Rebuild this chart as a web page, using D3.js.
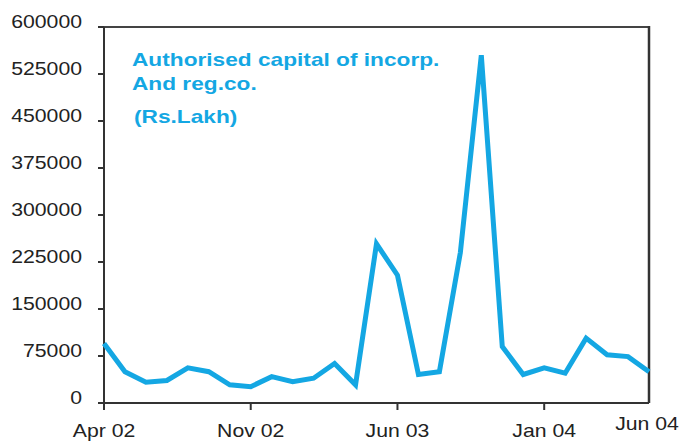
<!DOCTYPE html>
<html>
<head>
<meta charset="utf-8">
<script src="https://cdn.jsdelivr.net/npm/d3@7"></script>
<style>
  html, body { margin: 0; padding: 0; background: #fff; }
  svg { display: block; }
  text { font-family: "Liberation Sans", Arial, sans-serif; }
</style>
</head>
<body>
<svg id="chart" width="682" height="441"></svg>
<script>
const months = ["Apr 02","May 02","Jun 02","Jul 02","Aug 02","Sep 02","Oct 02","Nov 02","Dec 02",
  "Jan 03","Feb 03","Mar 03","Apr 03","May 03","Jun 03","Jul 03","Aug 03","Sep 03","Oct 03",
  "Nov 03","Dec 03","Jan 04","Feb 04","Mar 04","Apr 04","May 04","Jun 04"];
const capital = [95000, 50000, 33000, 36000, 56000, 50000, 29000, 26000, 42000,
  34000, 39500, 63000, 29000, 254000, 204000, 45500, 50000, 240000, 555000,
  90000, 45500, 56000, 47500, 103500, 77000, 74000, 50000];
const yTicks = [0, 75000, 150000, 225000, 300000, 375000, 450000, 525000, 600000];
const xTickLabels = ["Apr 02", "Nov 02", "Jun 03", "Jan 04", "Jun 04"];
const titleLines = ["Authorised capital of incorp.", "And reg.co.", "(Rs.Lakh)"];

const svg = d3.select("#chart");
const mLeft = 104, mRight = 649, mTop = 27, mBottom = 403;
const blue = "#14a7e3";
const stretch = 1.18;

const x = d3.scalePoint().domain(months).range([mLeft, mRight]);
const y = d3.scaleLinear().domain([0, 600000]).range([mBottom, mTop]);

// frame: top and right border
svg.append("line").attr("x1", mLeft - 6).attr("x2", mRight).attr("y1", mTop).attr("y2", mTop)
  .attr("stroke", "#444").attr("stroke-width", 2);
svg.append("line").attr("x1", mRight).attr("x2", mRight).attr("y1", mTop - 1).attr("y2", mBottom)
  .attr("stroke", "#333").attr("stroke-width", 2.5);

// y axis
const yAxis = svg.append("g");
yAxis.append("line").attr("x1", mLeft).attr("x2", mLeft).attr("y1", mTop).attr("y2", mBottom + 7)
  .attr("stroke", "#333").attr("stroke-width", 2);
yAxis.selectAll(".yt").data(yTicks).enter().append("line")
  .attr("x1", mLeft - 6).attr("x2", mLeft).attr("y1", d => y(d)).attr("y2", d => y(d))
  .attr("stroke", "#333").attr("stroke-width", 2);
yAxis.selectAll(".yl").data(yTicks).enter().append("text")
  .attr("transform", d => `translate(82,${y(d) + 1}) scale(${stretch},1)`)
  .attr("text-anchor", "end")
  .attr("font-size", 18).attr("fill", "#222")
  .text(d => d);

// x axis
svg.append("line").attr("x1", mLeft - 6).attr("x2", mRight).attr("y1", mBottom).attr("y2", mBottom)
  .attr("stroke", "#333").attr("stroke-width", 2);
svg.selectAll(".xt").data(xTickLabels.slice(0, 4)).enter().append("line")
  .attr("x1", d => x(d)).attr("x2", d => x(d)).attr("y1", mBottom).attr("y2", mBottom + 7)
  .attr("stroke", "#333").attr("stroke-width", 2);
svg.selectAll(".xl").data(xTickLabels).enter().append("text")
  .attr("transform", (d, i) => `translate(${i === 4 ? x(d) - 2 : x(d)},${i === 4 ? 430 : 437}) scale(${stretch},1)`)
  .attr("text-anchor", "middle")
  .attr("font-size", 18).attr("fill", "#222")
  .text(d => d);

// line
const line = d3.line().x((d, i) => x(months[i])).y(d => y(d));
svg.append("path").datum(capital)
  .attr("d", line)
  .attr("fill", "none").attr("stroke", blue).attr("stroke-width", 5)
  .attr("stroke-linejoin", "miter").attr("stroke-miterlimit", 10);

// title
const tY = [66, 90, 123];
const tX = [132, 132, 134];
svg.selectAll(".title").data(titleLines).enter().append("text")
  .attr("transform", (d, i) => `translate(${tX[i]},${tY[i]}) scale(1.26,1)`)
  .attr("font-size", 18).attr("font-weight", "bold").attr("fill", blue)
  .text(d => d);
</script>
</body>
</html>
